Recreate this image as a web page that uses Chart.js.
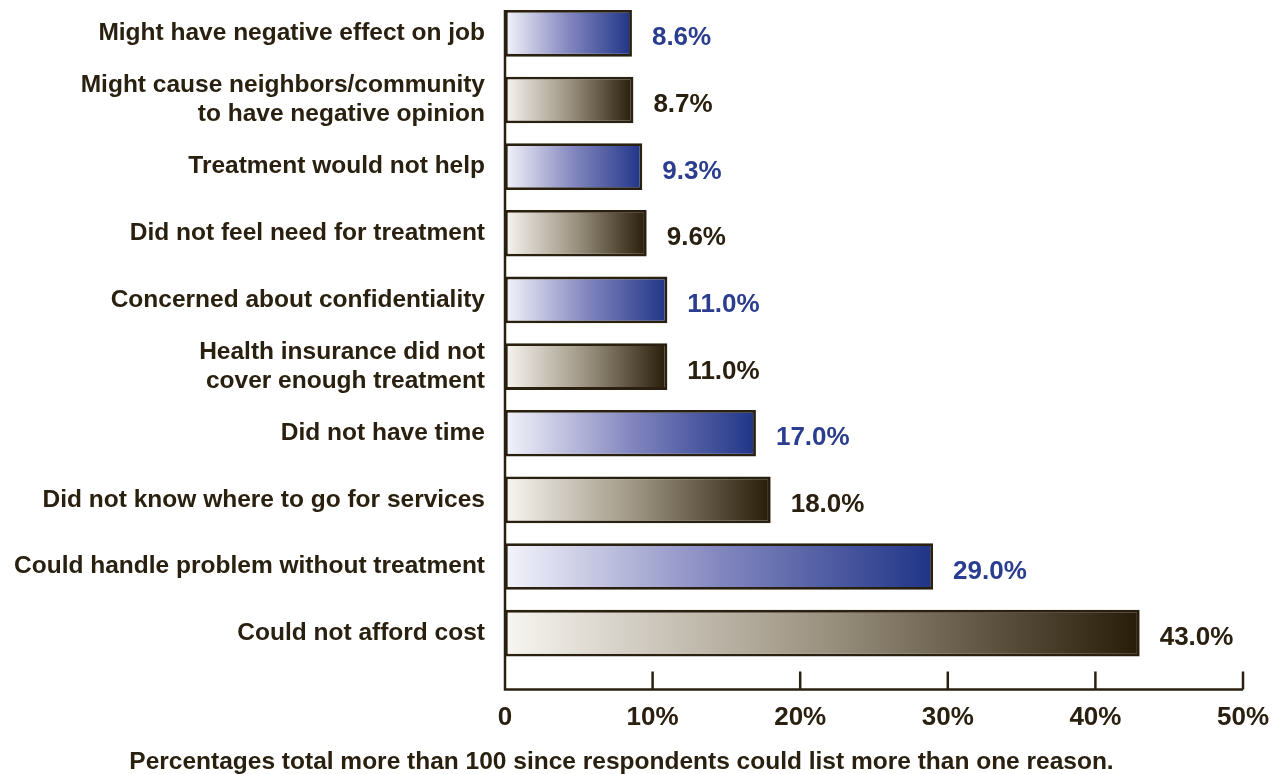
<!DOCTYPE html>
<html>
<head>
<meta charset="utf-8">
<script src="https://cdn.jsdelivr.net/npm/chart.js@4/dist/chart.umd.min.js"></script>
<style>
  html, body { margin: 0; padding: 0; background: #fff; }
  #wrap { width: 1279px; height: 774px; }
</style>
</head>
<body>
<div id="wrap"><canvas id="reasons-chart"></canvas></div>
<script>
// Reasons for not getting treatment, top to bottom
var categories = [
    'Might have negative effect on job',
    ['Might cause neighbors/community', 'to have negative opinion'],
    'Treatment would not help',
    'Did not feel need for treatment',
    'Concerned about confidentiality',
    ['Health insurance did not', 'cover enough treatment'],
    'Did not have time',
    'Did not know where to go for services',
    'Could handle problem without treatment',
    'Could not afford cost'
];
var percentValues = [8.6, 8.7, 9.3, 9.6, 11.0, 11.0, 17.0, 18.0, 29.0, 43.0];
var tickValues = [0, 10, 20, 30, 40, 50];
var footnote = 'Percentages total more than 100 since respondents could list more than one reason.';

var INK = '#2a2010';
var BLUE_TEXT = '#2b3d8f';
var FONT = '"Liberation Sans", Arial, sans-serif';

var isBlue = function (i) {
    return i % 2 === 0;
};

var barFill = function (context) {
    var chart = context.chart;
    var i = context.dataIndex;
    if (!chart.chartArea || i === undefined) {
        return '#999';
    }
    var xs = chart.scales.x;
    var x0 = xs.getPixelForValue(0);
    var x1 = xs.getPixelForValue(percentValues[i]);
    var g = chart.ctx.createLinearGradient(x0, 0, x1, 0);
    if (isBlue(i)) {
        g.addColorStop(0, '#f4f4fb');
        g.addColorStop(0.5, '#8387bf');
        g.addColorStop(1, '#1f3487');
    } else {
        g.addColorStop(0, '#f8f6f1');
        g.addColorStop(0.5, '#9c9280');
        g.addColorStop(1, '#271c08');
    }
    return g;
};

// axis lines with inward ticks, drawn just under the bars
var axisLines = {
    id: 'axisLines',
    afterDraw: function (chart) {
        var ctx = chart.ctx;
        var xs = chart.scales.x;
        var bars = chart.getDatasetMeta(0).data;
        var axisY = chart.chartArea.bottom + 23;
        var left = xs.getPixelForValue(0);
        var right = xs.getPixelForValue(50);
        ctx.save();
        ctx.strokeStyle = INK;
        ctx.lineWidth = 2.5;
        ctx.beginPath();
        ctx.moveTo(left, bars[0].y - bars[0].height / 2);
        ctx.lineTo(left, axisY);
        ctx.lineTo(right, axisY);
        tickValues.forEach(function (v) {
            var px = xs.getPixelForValue(v);
            ctx.moveTo(px, axisY);
            ctx.lineTo(px, axisY - 18);
        });
        ctx.stroke();
        ctx.restore();
    }
};

// value labels to the right of each bar
var valueLabels = {
    id: 'valueLabels',
    afterDatasetsDraw: function (chart) {
        var ctx = chart.ctx;
        var meta = chart.getDatasetMeta(0);
        ctx.save();
        ctx.font = 'bold 26px ' + FONT;
        ctx.textAlign = 'left';
        ctx.textBaseline = 'middle';
        meta.data.forEach(function (bar, i) {
            ctx.fillStyle = isBlue(i) ? BLUE_TEXT : INK;
            ctx.fillText(percentValues[i].toFixed(1) + '%', bar.x + 20, bar.y + 5);
        });
        ctx.restore();
    }
};

var ctxEl = document.getElementById('reasons-chart');
var chartreport = new Chart(ctxEl, {
    type: 'bar',
    data: {
        labels: categories,
        datasets: [{
            data: percentValues,
            backgroundColor: barFill,
            borderColor: INK,
            borderWidth: 2.8,
            borderSkipped: false,
            categoryPercentage: 1,
            barPercentage: 0.7
        }]
    },
    options: {
        indexAxis: 'y',
        responsive: true,
        maintainAspectRatio: false,
        animation: false,
        layout: {
            padding: { left: 0, right: 36, top: 0, bottom: 0 }
        },
        scales: {
            x: {
                min: 0,
                max: 50,
                afterBuildTicks: function (scale) {
                    scale.ticks = tickValues.map(function (v) { return { value: v }; });
                },
                afterFit: function (scale) {
                    scale.height = 72;
                    scale.paddingLeft = 0;
                    scale.paddingRight = 0;
                },
                grid: { display: false, drawTicks: false },
                border: { display: false },
                ticks: {
                    padding: 36,
                    color: INK,
                    font: { family: FONT, size: 26, weight: 'bold' },
                    callback: function (v) {
                        return v === 0 ? '0' : v + '%';
                    }
                }
            },
            y: {
                afterFit: function (scale) {
                    scale.width = 505;
                    scale.paddingTop = 0;
                    scale.paddingBottom = 0;
                },
                grid: { display: false, drawTicks: false },
                border: { display: false },
                ticks: {
                    padding: 20,
                    color: INK,
                    font: { family: FONT, size: 24.5, weight: 'bold', lineHeight: 1.2 }
                }
            }
        },
        plugins: {
            legend: { display: false },
            tooltip: { enabled: false },
            title: {
                display: true,
                position: 'bottom',
                text: footnote,
                color: INK,
                font: { family: FONT, size: 24.5, weight: 'bold', lineHeight: 1 },
                padding: { top: 11, bottom: 0 }
            }
        }
    },
    plugins: [axisLines, valueLabels]
});
</script>
</body>
</html>
